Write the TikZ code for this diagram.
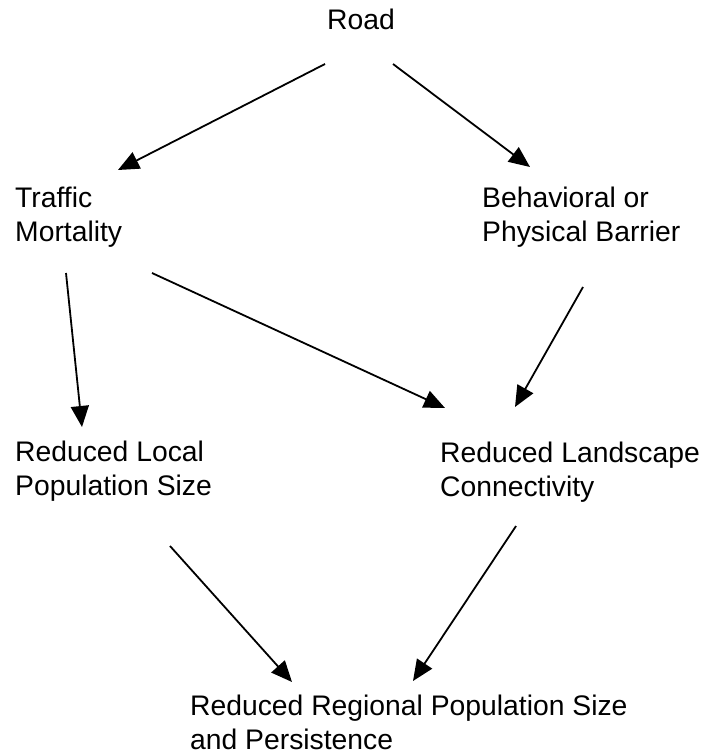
\documentclass[tikz,border=0pt]{standalone}
\usepackage{fontspec}
\setmainfont{Liberation Sans}
\usetikzlibrary{arrows.meta}
\newcommand{\lblstrut}{\rule{0pt}{0.75em}}
\begin{document}
\begin{tikzpicture}[x=1pt,y=-1pt,
  lbl/.style={inner sep=0pt, align=left, anchor=north west, font=\fontsize{28.3}{34}\selectfont},
  arr/.style={line width=1.8pt, -{Triangle[length=21pt,width=18pt]}}]
\useasboundingbox[fill=white] (0,0) rectangle (713,754);
\node[lbl, anchor=north] (road) at (361,8) {\lblstrut Road};
\node[lbl] (traffic) at (15,185.8) {\lblstrut Traffic\\Mortality};
\node[lbl] (barrier) at (482,185.8) {\lblstrut Behavioral or\\Physical Barrier};
\node[lbl] (local) at (15,439.8) {\lblstrut Reduced Local\\Population Size};
\node[lbl] (landscape) at (440,440.8) {\lblstrut Reduced Landscape\\Connectivity};
\node[lbl] (regional) at (190,693.8) {\lblstrut Reduced Regional Population Size\\and Persistence};
\draw[arr] ([shift={(-36,56)}]road.north) -- ([shift={(103,-15.8)}]traffic.north west);
\draw[arr] ([shift={(32,56)}]road.north) -- ([shift={(48,-18.8)}]barrier.north west);
\draw[arr] ([shift={(51,87.2)}]traffic.north west) -- ([shift={(67,-12.8)}]local.north west);
\draw[arr] ([shift={(137,87.2)}]traffic.north west) -- ([shift={(5,-32.8)}]landscape.north west);
\draw[arr] ([shift={(101,101.2)}]barrier.north west) -- ([shift={(75,-33.8)}]landscape.north west);
\draw[arr] ([shift={(155,106.2)}]local.north west) -- ([shift={(102,-11.8)}]regional.north west);
\draw[arr] ([shift={(76,85.2)}]landscape.north west) -- ([shift={(223,-12.8)}]regional.north west);
\end{tikzpicture}
\end{document}
